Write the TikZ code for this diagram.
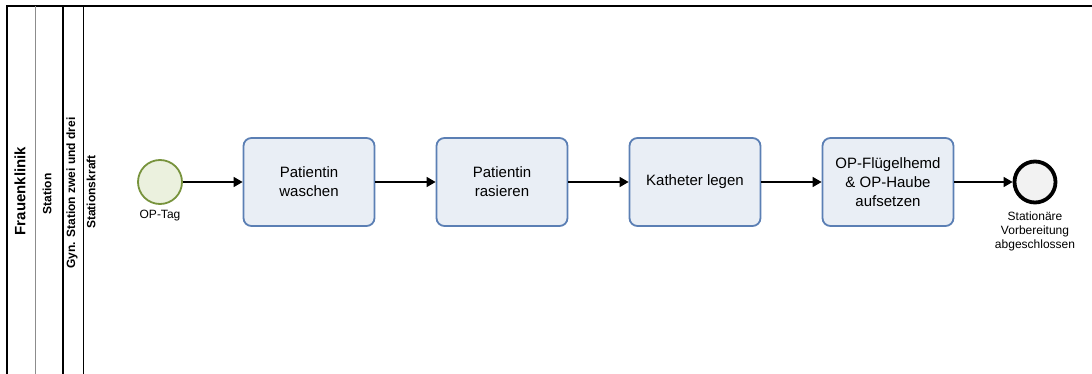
\documentclass[tikz,border=0pt]{standalone}
\usepackage{fontspec}
\setmainfont{Liberation Sans}
\usetikzlibrary{arrows.meta}
\definecolor{taskfill}{HTML}{E9EEF5}
\definecolor{taskdraw}{HTML}{5B7FB4}
\definecolor{startfill}{HTML}{EBF1DE}
\definecolor{startdraw}{HTML}{77933C}
\definecolor{endfill}{HTML}{F2F2F2}
\definecolor{lanegray}{HTML}{8C8C8C}
\begin{document}
\begin{tikzpicture}[x=1pt,y=-1pt,
  task/.style={draw=taskdraw,fill=taskfill,line width=1.8pt,rounded corners=8pt,minimum width=131pt,minimum height=88pt,align=center,font=\fontsize{15}{19}\selectfont},
  startev/.style={circle,draw=startdraw,fill=startfill,line width=1.8pt,minimum size=44pt,inner sep=0pt},
  endev/.style={circle,draw=black,fill=endfill,line width=3.8pt,minimum size=41pt,inner sep=0pt},
  evlabel/.style={font=\fontsize{12}{14}\selectfont,align=center,anchor=north,inner sep=0pt},
  flow/.style={draw=black,line width=1.6pt,-{Triangle[length=9pt,width=10pt]}},
  lanetext/.style={rotate=90,font=\bfseries\fontsize{12}{14}\selectfont,inner sep=0pt}
]
\useasboundingbox (0,0) rectangle (1092,374);
% pool / lane lines
\draw[line width=1.6pt] (7,374) -- (7,6) -- (1092,6);
\draw[lanegray,line width=1pt] (35,6) -- (35,374);
\draw[line width=1.2pt] (63,6) -- (63,374);
\draw[line width=1pt] (83,6) -- (83,374);
\node[rotate=90,font=\bfseries\fontsize{15}{17}\selectfont,inner sep=0pt] (pool) at (20,191) {Frauenklinik};
\node[lanetext] (l1) at (47,194) {Station};
\node[lanetext] (l2) at (72,193) {Gyn. Station zwei und drei};
\node[lanetext] (l3) at (91,192) {Stationskraft};
% events and tasks
\node[startev] (s) at (160,182) {};
\node[evlabel] (sl) at (160,210) {OP-Tag};
\node[task] (t1) at (309,182) {Patientin\\waschen};
\node[task] (t2) at (502,182) {Patientin\\rasieren};
\node[task] (t3) at (695,182) {Katheter legen};
\node[task] (t4) at (888,182) {OP-Flügelhemd\\\& OP-Haube\\aufsetzen};
\node[endev] (e) at (1035,182) {};
\node[evlabel] (el) at (1035,212) {Stationäre\\Vorbereitung\\abgeschlossen};
\draw[flow] (s) -- (t1);
\draw[flow] (t1) -- (t2);
\draw[flow] (t2) -- (t3);
\draw[flow] (t3) -- (t4);
\draw[flow] (t4) -- (e);
\end{tikzpicture}
\end{document}
